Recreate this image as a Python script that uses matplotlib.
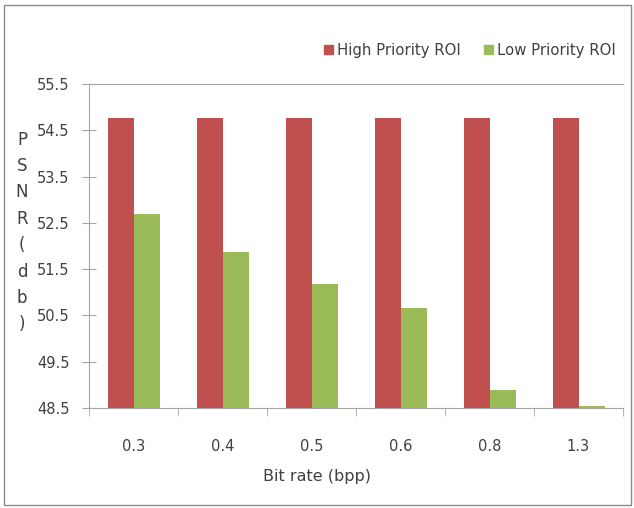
import matplotlib
matplotlib.use("Agg")
import matplotlib.pyplot as plt
import matplotlib.patches as mpatches
import numpy as np

BIT_RATES = ['0.3', '0.4', '0.5', '0.6', '0.8', '1.3']
HIGH_ROI = [54.77, 54.77, 54.77, 54.77, 54.77, 54.77]
LOW_ROI = [52.69, 51.88, 51.17, 50.65, 48.89, 48.54]
Y_TICKS = [48.5, 49.5, 50.5, 51.5, 52.5, 53.5, 54.5, 55.5]

RED = '#c0504d'
GREEN = '#9bbb59'
AXIS = '#a6a6a6'
TEXT = '#404040'

W, H = 634, 508
fig = plt.figure(figsize=(W / 100, H / 100), dpi=100)
ax = fig.add_axes([89 / W, 1 - 408 / H, 534 / W, 324 / H])

x = np.arange(len(BIT_RATES))
width = 0.29
base = Y_TICKS[0]
ax.bar(x - width / 2 + 0.005, np.array(HIGH_ROI) - base, width, bottom=base, color=RED)
ax.bar(x + width / 2 + 0.005, np.array(LOW_ROI) - base, width, bottom=base, color=GREEN)

ax.set_xlim(-0.5, len(BIT_RATES) - 0.5)
ax.set_ylim(Y_TICKS[0], Y_TICKS[-1])

ax.set_yticks(Y_TICKS)
ax.set_yticklabels([f'{v:.1f}' for v in Y_TICKS], fontsize=10.5, color=TEXT)
ax.set_xticks(x)
ax.set_xticklabels(BIT_RATES, fontsize=10.5, color=TEXT)
ax.tick_params(axis='x', length=0, pad=22)
ax.tick_params(axis='y', length=10, direction='inout', color=AXIS, pad=9)

# category boundary ticks under the x axis
ax.set_xticks(np.arange(-0.5, len(BIT_RATES)), minor=True)
ax.tick_params(axis='x', which='minor', length=6, color=AXIS)

for side in ['left', 'bottom', 'top']:
    ax.spines[side].set_color(AXIS)
ax.spines['right'].set_visible(False)

ax.set_xlabel('Bit rate (bpp)', fontsize=11.5, color=TEXT, va='center')
ax.xaxis.set_label_coords((317 - 89) / 534, -(477 - 408) / 324)

fig.text(22 / W, 1 - 232 / H, 'P\nS\nN\nR\n(\nd\nb\n)', fontsize=12,
         color=TEXT, ha='center', va='center', linespacing=1.6)

high = mpatches.Patch(color=RED, label='High Priority ROI')
low = mpatches.Patch(color=GREEN, label='Low Priority ROI')
fig.legend(handles=[high, low], loc='center', bbox_to_anchor=(470 / W, 1 - 50 / H),
           ncol=2, frameon=False, fontsize=10.7, handlelength=0.6, handleheight=0.6,
           handletextpad=0.27, columnspacing=1.55, labelcolor=TEXT,
           borderpad=0, borderaxespad=0)

fig.patches.append(mpatches.Rectangle((4 / W, 3 / H), 627 / W, 500 / H,
                                      transform=fig.transFigure, fill=False,
                                      edgecolor='#8c8c8c', linewidth=1))

fig.savefig('out.png', dpi=100)
